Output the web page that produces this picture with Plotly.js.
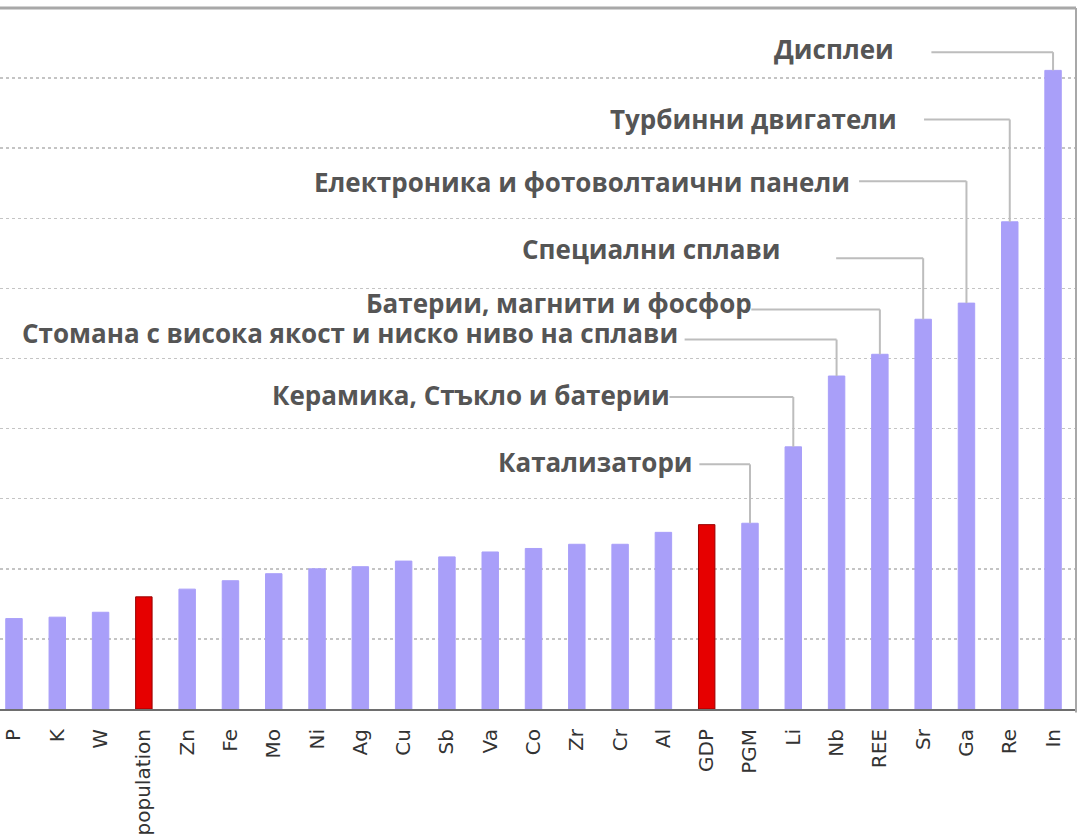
<!DOCTYPE html>
<html>
<head>
<meta charset="utf-8">
<script src="https://cdn.plot.ly/plotly-3.0.1.min.js"></script>
<style>
html,body{margin:0;padding:0;background:#fff;}
#chart{width:1086px;height:838px;}
</style>
</head>
<body>
<div id="chart"></div>
<script>
// ---- data ----
const categories = ['P','K','W','population','Zn','Fe','Mo','Ni','Ag','Cu','Sb','Va','Co','Zr','Cr','Al','GDP','PGM','Li','Nb','REE','Sr','Ga','Re','In'];
const values = [1.29,1.31,1.38,1.60,1.71,1.83,1.93,2.00,2.03,2.11,2.17,2.24,2.29,2.35,2.35,2.52,2.63,2.65,3.74,4.75,5.06,5.56,5.79,6.95,9.11];
const highlighted = ['population','GDP'];

const labelTexts = ['Дисплеи','Турбинни двигатели','Електроника и фотоволтаични панели','Специални сплави','Батерии, магнити и фосфор','Стомана с висока якост и ниско ниво на сплави','Керамика, Стъкло и батерии','Катализатори'];
const labelTargets = ['In','Re','Ga','Sr','REE','Nb','Li','PGM'];

// ---- layout positions (not data) ----
const textRightX = [20.35,20.42,19.33,17.75,17.06,15.36,15.18,15.70];
const lineStartX = [21.19,21.02,19.52,18.99,17.03,15.49,15.14,15.83];
const lineY      = [9.37,8.41,7.53,6.43,5.70,5.27,4.45,3.49];
const textY      = [9.42,8.42,7.52,6.56,5.79,5.36,4.48,3.53];

const lavender = '#a99ff9';
const red = '#e60000';

const colors = categories.map(c => highlighted.includes(c) ? red : lavender);
const lineColors = categories.map(c => highlighted.includes(c) ? '#9a0000' : lavender);

const trace = {
  type: 'bar',
  x: categories,
  y: values,
  width: 0.38,
  marker: {color: colors, line: {color: lineColors, width: 1}},
  hoverinfo: 'x+y'
};

const shapes = [];
const annotations = [];
labelTexts.forEach((t, i) => {
  const idx = categories.indexOf(labelTargets[i]);
  const v = values[idx];
  shapes.push({type:'line', xref:'x', yref:'y', x0: lineStartX[i], x1: idx, y0: lineY[i], y1: lineY[i],
               line:{color:'#bdbdbd', width:2}});
  shapes.push({type:'line', xref:'x', yref:'y', x0: idx, x1: idx, y0: lineY[i], y1: v,
               line:{color:'#bdbdbd', width:2}});
  annotations.push({xref:'x', yref:'y', x: textRightX[i], y: textY[i], xanchor:'right', yanchor:'middle',
                    text: t, showarrow:false, borderpad:0,
                    font:{family:'"Open Sans", "Noto Sans", sans-serif', size:26, color:'#555555', weight:700}});
});
// frame (top and right borders)
shapes.push({type:'line', xref:'paper', yref:'paper', x0:0, x1:1, y0:1, y1:1, line:{color:'#a8a8a8', width:3}});
shapes.push({type:'line', xref:'paper', yref:'paper', x0:1, x1:1, y0:-0.005, y1:1, line:{color:'#a8a8a8', width:2}});

const layout = {
  width: 1086, height: 838,
  margin: {l:0, r:10, t:8, b:129, pad:0},
  paper_bgcolor:'#fff', plot_bgcolor:'#fff',
  showlegend:false,
  bargap: 0.6,
  xaxis: {
    type:'category',
    range:[-0.323, 24.53],
    tickangle:-90,
    ticklabelstandoff: 10,
    tickfont:{family:'"DejaVu Sans", Verdana, sans-serif', size:20, color:'#333333'},
    showline:true, linecolor:'#6e6e6e', linewidth:2,
    ticks:'', showgrid:false, zeroline:false, ticklen:0
  },
  yaxis: {
    range:[0,10], dtick:1, tick0:0,
    showticklabels:false, ticks:'',
    showgrid:true, gridcolor:'#c4c4c4', gridwidth:1.5, griddash:'dot',
    zeroline:false, showline:false
  },
  shapes: shapes,
  annotations: annotations
};

Plotly.newPlot('chart', [trace], layout, {displayModeBar:false, staticPlot:true});
</script>
</body>
</html>
